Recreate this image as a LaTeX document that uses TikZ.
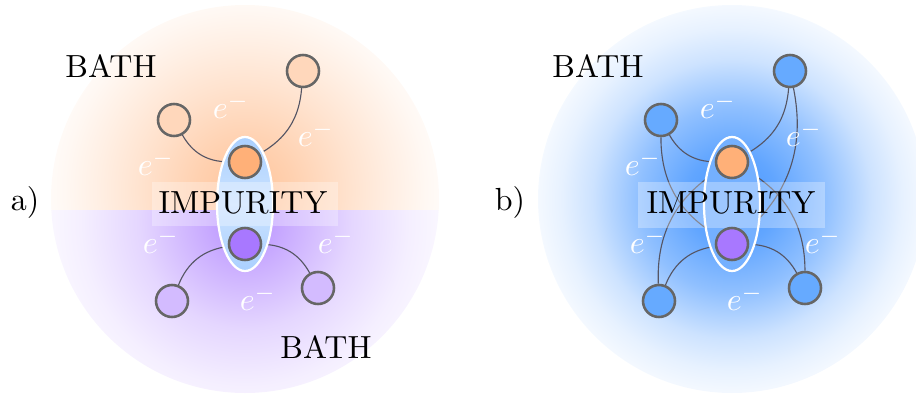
\documentclass[tikz,border=0pt]{standalone}
\usetikzlibrary{fadings}
\definecolor{imporange}{RGB}{255,176,120}
\definecolor{imppurple}{RGB}{168,120,255}
\definecolor{bathblue}{RGB}{102,170,255}
\definecolor{shellblue}{RGB}{170,208,255}
\definecolor{glowblue}{RGB}{70,150,255}
\definecolor{linkgray}{RGB}{85,85,100}
\pgfdeclareradialshading{orangeglow}{\pgfpoint{0bp}{0bp}}{color(0bp)=(imporange!75); color(6bp)=(imporange!58); color(13bp)=(imporange!35); color(18bp)=(imporange!20); color(22bp)=(imporange!9); color(25bp)=(imporange!3); color(50bp)=(imporange!3)}
\pgfdeclareradialshading{purpleglow}{\pgfpoint{0bp}{0bp}}{color(0bp)=(imppurple!82); color(6bp)=(imppurple!58); color(13bp)=(imppurple!30); color(20bp)=(imppurple!12); color(25bp)=(imppurple!4); color(50bp)=(imppurple!4)}
\pgfdeclareradialshading{blueglow}{\pgfpoint{0bp}{0bp}}{color(0bp)=(glowblue!100); color(6bp)=(glowblue!85); color(12bp)=(glowblue!60); color(18bp)=(glowblue!27); color(22bp)=(glowblue!13); color(25bp)=(glowblue!6); color(50bp)=(glowblue!6)}
\tikzfading[name=bandfade, top color=transparent!70, middle color=transparent!0, bottom color=transparent!70]
\pgfdeclarelayer{glow}
\pgfdeclarelayer{links}
\pgfdeclarelayer{shell}
\pgfsetlayers{glow,links,shell,main}
\begin{document}
\begin{tikzpicture}[x=0.3125pt,y=0.3125pt,
  site/.style={circle,draw=black!60,line width=0.8pt,minimum size=10pt,inner sep=0pt},
  link/.style={draw=linkgray,line width=0.35pt},
  elec/.style={text=white},
  shell/.style={draw=white,line width=0.7pt}]
\useasboundingbox (0,0) rectangle (916,-397);

%左図 a)
\begin{pgfonlayer}{glow}
  \begin{scope}
    \clip (245,-199) circle (194);
    \clip (40,10) rectangle (450,-210);
    \shade[shading=orangeglow] (245,-190) circle (205);
  \end{scope}
  \begin{scope}
    \clip (245,-199) circle (194);
    \clip (40,-210) rectangle (450,-410);
    \shade[shading=purpleglow] (245,-222) circle (205);
  \end{scope}
\end{pgfonlayer}
\node (la) at (25,-202) {a)};
\node (btha) at (111,-66) {BATH};
\node (bthb) at (326,-347) {BATH};
\node[site,fill=imporange!50] (ba1) at (174,-120) {};
\node[site,fill=imporange!50] (ba2) at (303,-71) {};
\node[site,fill=imporange] (ia1) at (245,-162) {};
\node[site,fill=imppurple] (ia2) at (245,-244) {};
\node[site,fill=imppurple!50] (ba3) at (172,-301) {};
\node[site,fill=imppurple!50] (ba4) at (318,-288) {};
\begin{pgfonlayer}{links}
  \draw[link] (ba1) to[bend right=30] (ia1);
  \draw[link] (ba2) to[bend left=28] (ia1);
  \draw[link] (ba3) to[bend left=30] (ia2);
  \draw[link] (ba4) to[bend right=30] (ia2);
\end{pgfonlayer}
\begin{pgfonlayer}{shell}
  \path[shell,top color=shellblue,bottom color=shellblue,middle color=shellblue!60] (245,-204) ellipse (28 and 67);
  \fill[white,path fading=bandfade] (152,-182) rectangle (338,-226);
\end{pgfonlayer}
\node (impa) at (243,-203) {IMPURITY};
\node[elec] (ea1) at (231,-106) {$e^-$};
\node[elec] (ea2) at (316,-134) {$e^-$};
\node[elec] (ea3) at (156,-163) {$e^-$};
\node[elec] (ea4) at (161,-241) {$e^-$};
\node[elec] (ea5) at (336,-241) {$e^-$};
\node[elec] (ea6) at (258,-298) {$e^-$};

%右図 b)
\begin{scope}[shift={(487,0)}]
\begin{pgfonlayer}{glow}
  \shade[shading=blueglow] (245,-199) circle (194);
\end{pgfonlayer}
\node (lb) at (23,-202) {b)};
\node (bthc) at (111,-66) {BATH};
\node[site,fill=bathblue] (bb1) at (174,-120) {};
\node[site,fill=bathblue] (bb2) at (303,-71) {};
\node[site,fill=imporange] (ib1) at (245,-162) {};
\node[site,fill=imppurple] (ib2) at (245,-244) {};
\node[site,fill=bathblue] (bb3) at (172,-301) {};
\node[site,fill=bathblue] (bb4) at (318,-288) {};
\begin{pgfonlayer}{links}
  \draw[link] (bb1) to[bend right=30] (ib1);
  \draw[link] (bb2) to[bend left=28] (ib1);
  \draw[link] (bb3) to[bend left=30] (ib2);
  \draw[link] (bb4) to[bend right=30] (ib2);
  \draw[link] (bb1) to[bend right=30] (ib2);
  \draw[link] (bb2) to[bend left=30] (ib2);
  \draw[link] (bb3) to[bend left=30] (ib1);
  \draw[link] (bb4) to[bend right=30] (ib1);
\end{pgfonlayer}
\begin{pgfonlayer}{shell}
  \path[shell,fill=glowblue!75] (245,-204) ellipse (28 and 67);
  \fill[white,path fading=bandfade] (151,-182) rectangle (338,-228);
\end{pgfonlayer}
\node (impb) at (244,-203) {IMPURITY};
\node[elec] (eb1) at (231,-106) {$e^-$};
\node[elec] (eb2) at (317,-134) {$e^-$};
\node[elec] (eb3) at (156,-163) {$e^-$};
\node[elec] (eb4) at (161,-241) {$e^-$};
\node[elec] (eb5) at (336,-241) {$e^-$};
\node[elec] (eb6) at (258,-298) {$e^-$};
\end{scope}
\end{tikzpicture}
\end{document}
